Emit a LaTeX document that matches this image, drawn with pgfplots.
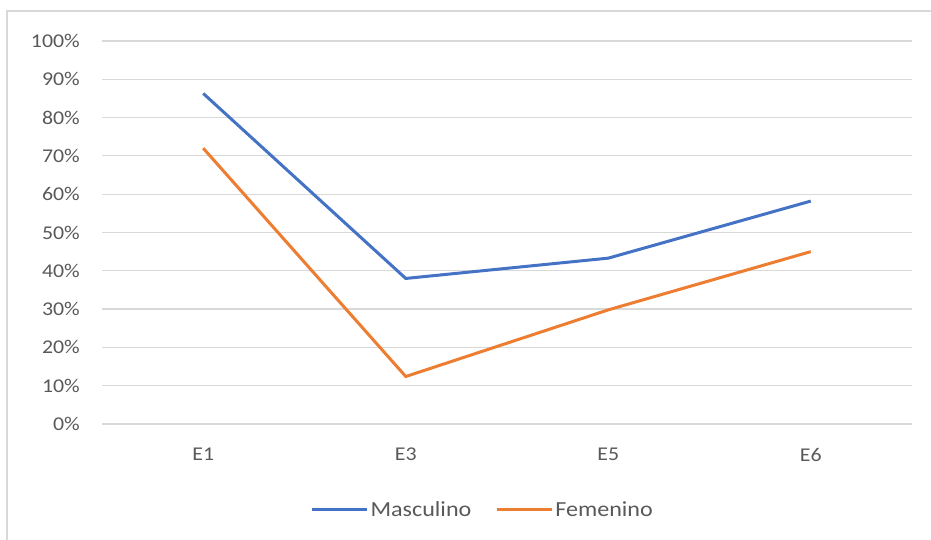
\documentclass[border=0pt]{standalone}
\usepackage{fontspec}
\setmainfont{Carlito}[FakeStretch=1.12]
\usepackage{pgfplots}
\pgfplotsset{compat=1.18}
\definecolor{mblue}{HTML}{4472C4}
\definecolor{morange}{HTML}{ED7D31}
\definecolor{txt}{HTML}{595959}
\definecolor{gridc}{HTML}{D9D9D9}
\begin{document}
\begin{tikzpicture}[x=1bp,y=1bp]
\path[use as bounding box] (0,0) rectangle (931,540);
\draw[gridc, line width=1.5bp] (7,-2) -- (7,529) -- (933,529);
\begin{axis}[
  at={(102bp,116bp)}, anchor=south west,
  scale only axis, width=810bp, height=383bp,
  xmin=-0.5, xmax=3.5, ymin=0, ymax=100,
  ytick={0,10,...,100},
  yticklabel={\pgfmathprintnumber{\tick}\%},
  xtick={0,1,2,3}, xticklabels={E1,E3,E5,E6},
  axis line style={draw=none},
  major tick length=0pt,
  ymajorgrids, grid style={gridc, line width=1.2bp},
  /pgf/number format/assume math mode=true,
  tick label style={font=\fontsize{19.5bp}{21bp}\selectfont, text=txt, inner sep=0pt},
  yticklabel style={anchor=east, xshift=-22bp},
  xticklabel style={anchor=north, yshift=-24bp},
  legend style={at={(0.47,-0.2245)}, anchor=center, draw=none, fill=none,
    legend columns=2, font=\fontsize{21.5bp}{23bp}\selectfont, text=txt, inner sep=0pt,
    /tikz/every odd column/.append style={column sep=0bp},
    /tikz/every even column/.append style={column sep=22bp}},
  legend image code/.code={\draw[#1, line width=3bp] (0,0) -- (55bp,0);},
]
\addplot[mblue, line width=3bp] coordinates {(0,86.3) (1,38) (2,43.3) (3,58.2)};
\addlegendentry{Masculino}
\addplot[morange, line width=3bp] coordinates {(0,72) (1,12.4) (2,29.8) (3,45)};
\addlegendentry{Femenino}
\end{axis}
\end{tikzpicture}
\end{document}
